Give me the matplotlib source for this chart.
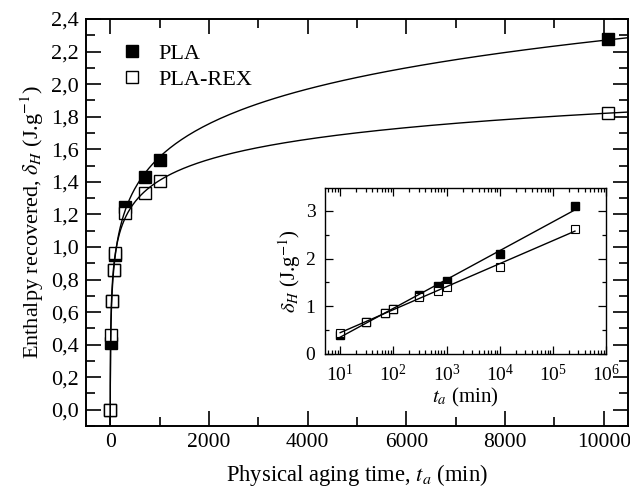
import numpy as np
import matplotlib.pyplot as plt
from matplotlib.ticker import MultipleLocator, FuncFormatter, LogLocator, NullFormatter

plt.rcParams['font.family'] = ['Liberation Serif', 'DejaVu Serif']
plt.rcParams['mathtext.fontset'] = 'stix'

# aging times (min) and enthalpy recovered (J/g)
t_main = [0, 10, 30, 70, 100, 300, 700, 1000, 10080]
pla = [0.0, 0.41, 0.67, 0.86, 0.95, 1.245, 1.43, 1.535, 2.28]
pla_rex = [0.0, 0.46, 0.67, 0.86, 0.96, 1.21, 1.33, 1.405, 1.82]

# log-scale inset values
t_log = [10, 30, 70, 100, 300, 700, 1000, 10000, 260000]
pla_log = [0.40, 0.67, 0.86, 0.95, 1.24, 1.43, 1.53, 2.10, 3.10]
rex_log = [0.45, 0.67, 0.85, 0.95, 1.20, 1.33, 1.40, 1.82, 2.62]


def power_fit(t, d):
    # delta = a + b * t**c, grid search on c, a and b by least squares (t > 0 only)
    t = np.asarray(t, float)
    d = np.asarray(d, float)
    m = t > 0
    t, d = t[m], d[m]
    best = None
    for c in np.linspace(-0.4, 0.4, 801):
        if abs(c) < 1e-6:
            continue
        A = np.column_stack([np.ones_like(t), t**c])
        coef, *_ = np.linalg.lstsq(A, d, rcond=None)
        err = ((A @ coef - d)**2).sum()
        if best is None or err < best[0]:
            best = (err, coef[0], coef[1], c)
    _, a, b, c = best
    return lambda x: a + b * x**c


fig = plt.figure(figsize=(6.3, 4.88), dpi=100)
ax = fig.add_axes([0.1365, 0.127, 0.8603, 0.834])

tt = np.logspace(-6, np.log10(10600), 800)
for d in (pla, pla_rex):
    f = power_fit(t_main, d)
    ax.plot(tt, f(tt), color='black', lw=1.0, zorder=5)

ax.plot(t_main, pla, 's', ms=8, color='black', mec='black', label='PLA', zorder=3)
ax.plot(t_main, pla_rex, 's', ms=8, mfc='white', mec='black', mew=1.0,
        label='PLA-REX', zorder=4)

ax.set_xlim(-490, 10490)
ax.set_ylim(-0.1, 2.4)
ax.xaxis.set_major_locator(MultipleLocator(2000))
ax.xaxis.set_minor_locator(MultipleLocator(1000))
ax.yaxis.set_major_locator(MultipleLocator(0.2))
ax.yaxis.set_minor_locator(MultipleLocator(0.1))
ax.yaxis.set_major_formatter(FuncFormatter(lambda v, p: f'{v:.1f}'.replace('.', ',')))
ax.tick_params(which='both', direction='in', top=True, right=True, labelsize=16,
               width=1.2, pad=5)
ax.tick_params(axis='x', labelsize=15.5)
ax.tick_params(which='major', length=11)
ax.tick_params(which='minor', length=6.5)
for s in ax.spines.values():
    s.set_linewidth(1.4)

ax.set_xlabel(r'Physical aging time, $t_a$ (min)', fontsize=16.3, labelpad=7)
ax.set_ylabel(r'Enthalpy recovered, $\delta_H$ (J.g$^{-1}$)', fontsize=16, labelpad=4)

ax.legend(loc='upper left', bbox_to_anchor=(0.02, 0.99), frameon=False, fontsize=16,
          handletextpad=0.45, labelspacing=0.25, handlelength=1.4)

# inset: log time axis
ins = fig.add_axes([0.516, 0.2746, 0.446, 0.340])
tl = np.array([10, 260000], float)
for d in (pla_log, rex_log):
    b, a = np.polyfit(np.log10(t_log), d, 1)
    ins.plot(tl, a + b * np.log10(tl), color='black', lw=1.0, zorder=5)
ins.plot(t_log, pla_log, 's', ms=5.5, color='black', zorder=3)
ins.plot(t_log, rex_log, 's', ms=5.5, mfc='white', mec='black', mew=0.8, zorder=4)

ins.set_xscale('log')
ins.set_xlim(5.2, 1e6)
ins.set_ylim(0, 3.48)
ins.xaxis.set_major_locator(LogLocator(base=10, numticks=10))
ins.xaxis.set_minor_locator(LogLocator(base=10, subs=np.arange(2, 10), numticks=20))
ins.xaxis.set_minor_formatter(NullFormatter())
ins.yaxis.set_major_locator(MultipleLocator(1))
ins.yaxis.set_minor_locator(MultipleLocator(0.5))
ins.tick_params(which='both', direction='in', top=True, right=True, labelsize=14,
                width=0.9, pad=7)
ins.tick_params(which='major', length=6)
ins.tick_params(which='minor', length=3)
for s in ins.spines.values():
    s.set_linewidth(1.0)
ins.set_xlabel(r'$t_a$ (min)', fontsize=15, labelpad=1)
ins.set_ylabel(r'$\delta_H$ (J.g$^{-1}$)', fontsize=15, labelpad=2)

fig.savefig('out.png', dpi=100)
